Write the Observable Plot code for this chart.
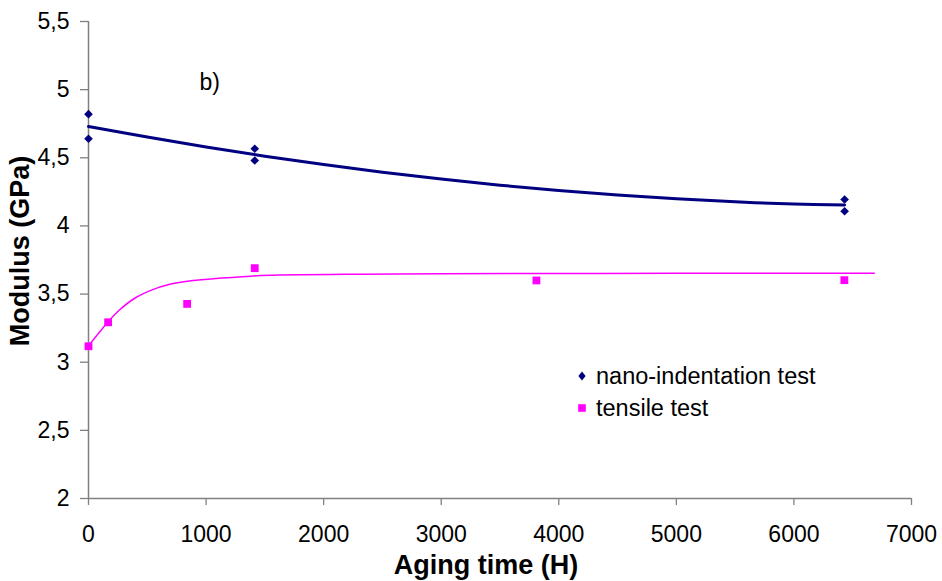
<!DOCTYPE html>
<html>
<head>
<meta charset="utf-8">
<script src="https://cdn.jsdelivr.net/npm/d3@7"></script>
<script src="https://cdn.jsdelivr.net/npm/@observablehq/plot@0.6"></script>
<style>
  html, body { margin: 0; padding: 0; background: #fff; }
  #chart { position: relative; width: 942px; height: 581px; font-family: "Liberation Sans", Arial, sans-serif; }
  #legend { position: absolute; left: 574px; top: 360px; font-size: 23.5px; color: #000; line-height: 32px; }
  #legend .row { display: flex; align-items: center; white-space: nowrap; }
  #legend svg { margin-right: 6px; }
</style>
</head>
<body>
<div id="chart">
  <div id="legend">
    <div class="row"><svg width="16" height="16" viewBox="-8 -8 16 16"><path d="M0,-4.5L3.6,0L0,4.5L-3.6,0Z" fill="#000080"/></svg>nano-indentation test</div>
    <div class="row"><svg width="16" height="16" viewBox="-8 -8 16 16"><rect x="-3.8" y="-3.8" width="7.6" height="7.6" fill="#ff00ff"/></svg>tensile test</div>
  </div>
</div>
<script>
// Nano-indentation measurements (aging time in hours, modulus in GPa)
const nanoTime = [0, 0, 1414, 1414, 6431, 6431];
const nanoModulus = [4.82, 4.64, 4.566, 4.48, 4.194, 4.108];

// Tensile test measurements
const tensileTime = [0, 167, 839, 1414, 3810, 6429];
const tensileModulus = [3.117, 3.293, 3.428, 3.69, 3.60, 3.602];

// Trend curve through the nano-indentation data
const nanoTrendTime = [0, 500, 1000, 1500, 2000, 2500, 3000, 3500, 4000, 4500, 5000, 5500, 6000, 6431];
const nanoTrendModulus = [4.73, 4.652, 4.579, 4.512, 4.45, 4.394, 4.344, 4.299, 4.26, 4.227, 4.199, 4.177, 4.161, 4.153];

// Trend curve through the tensile data
const tensileTrendTime = [0, 164, 258, 400, 541, 683, 825, 1108, 1335, 1463, 2313, 3000, 4000, 5000, 6684];
const tensileTrendModulus = [3.12, 3.293, 3.379, 3.473, 3.531, 3.57, 3.592, 3.616, 3.629, 3.636, 3.646, 3.649, 3.651, 3.652, 3.652];

// Axis ticks
const xTicks = [0, 1000, 2000, 3000, 4000, 5000, 6000, 7000];
const yTicks = [2, 2.5, 3, 3.5, 4, 4.5, 5, 5.5];

const nano = nanoTime.map((t, i) => ({t, m: nanoModulus[i]}));
const tensile = tensileTime.map((t, i) => ({t, m: tensileModulus[i]}));
const nanoTrend = nanoTrendTime.map((t, i) => ({t, m: nanoTrendModulus[i]}));
const tensileTrend = tensileTrendTime.map((t, i) => ({t, m: tensileTrendModulus[i]}));

const navy = "#000080";
const magenta = "#ff00ff";
const axisGray = "#808080";
const commaDecimal = d => String(d).replace(".", ",");

const chart = Plot.plot({
  width: 942,
  height: 581,
  marginLeft: 88,
  marginRight: 31,
  marginTop: 21,
  marginBottom: 83,
  style: {fontFamily: "'Liberation Sans', Arial, sans-serif", fontSize: "23px", color: "#000", background: "#fff"},
  x: {domain: [0, 7000]},
  y: {domain: [2, 5.5]},
  marks: [
    Plot.axisX({ticks: xTicks, tickSize: 7, tickPadding: 20, tickFormat: d => String(d), stroke: axisGray, fill: "#000", fontSize: 23, label: null, strokeWidth: 1.3}),
    Plot.axisY({ticks: yTicks, tickSize: 8, tickPadding: 11, tickFormat: commaDecimal, stroke: axisGray, fill: "#000", fontSize: 23, label: null, strokeWidth: 1.3}),
    Plot.ruleX([0], {stroke: axisGray, strokeWidth: 1.5}),
    Plot.ruleY([2], {stroke: axisGray, strokeWidth: 1.5}),
    Plot.line(tensileTrend, {x: "t", y: "m", stroke: magenta, strokeWidth: 1.5, curve: "catmull-rom"}),
    Plot.line(nanoTrend, {x: "t", y: "m", stroke: navy, strokeWidth: 3, curve: "catmull-rom"}),
    Plot.dot(nano, {x: "t", y: "m", symbol: "diamond2", r: 3.9, fill: navy, stroke: null}),
    Plot.dot(tensile, {x: "t", y: "m", symbol: "square", r: 4.4, fill: magenta, stroke: null}),
    Plot.text(["b)"], {x: 1030, y: 5.05, text: d => d, fontSize: 23, fill: "#000"}),
    Plot.text(["Aging time (H)"], {frameAnchor: "bottom", dx: -14, dy: 67, text: d => d, textAnchor: "middle", lineAnchor: "middle", fontSize: 27, fontWeight: "bold", fill: "#000"}),
    Plot.text(["Modulus (GPa)"], {frameAnchor: "left", dx: -68, dy: -9, rotate: -90, text: d => d, textAnchor: "middle", lineAnchor: "middle", fontSize: 27, fontWeight: "bold", fill: "#000"})
  ]
});

document.getElementById("chart").prepend(chart);
</script>
</body>
</html>
